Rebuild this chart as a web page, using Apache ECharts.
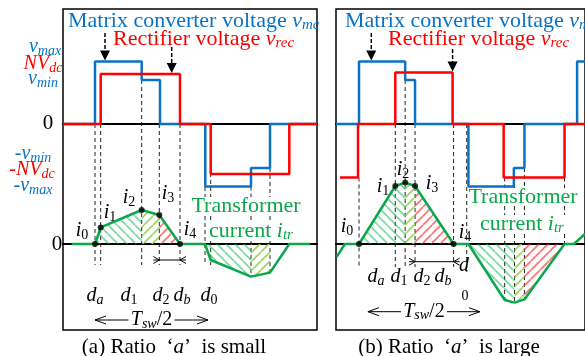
<!DOCTYPE html>
<html><head><meta charset="utf-8">
<script src="https://cdn.jsdelivr.net/npm/echarts/dist/echarts.min.js"></script>
<style>html,body{margin:0;padding:0;background:#fff}#c{width:585px;height:356px}</style>
</head><body><div id="c"></div>
<script>
// ---- levels (voltage, normalised) ----
const V_MAX = 1.25, NV_DC = 1.0, V_MIN = 0.88;

// ---- Panel (a): ratio 'a' is small ----
const tA_vmc = [0, 32, 78.7, 97, 142.3, 188, 207, 254];
const vA_vmc = [0, V_MAX, V_MIN, 0, -V_MAX, -V_MIN, 0, 0];
const tA_rec = [0, 37.7, 117, 147.7, 226.3, 254];
const vA_rec = [0, NV_DC, 0, -NV_DC, 0, 0];
const tA_itr = [8.7, 32, 37.7, 78.7, 96.3, 117, 142, 147.7, 188, 207, 226.3, 247];
const iA_itr = [0, 0, 0.83, 1.7, 1.45, 0, 0, -0.8, -1.63, -1.43, 0, 0];
const dotsA = [1, 2, 3, 4, 5];
const hatchA = [[32, 78.7, 'g'], [78.7, 96.3, 'l'], [96.3, 117, 'r'], [142, 188, 'g'], [188, 207, 'l']];
const guidesA = [[32, 0, -1.05], [37.7, 0, -1.05], [78.7, V_MIN, -1.05], [96.3, 0, -1.05], [117, 0, -1.05],
                 [142, 0, -1.05], [147.7, 0, -1.05], [188, -V_MAX, -1.63], [207, -V_MIN, -1.43]];
const arrowsA = [[42, 1.82, V_MAX], [108.7, 1.54, NV_DC]];
const dimA = [96.3, 117];
const tswA = [32, 145];

// ---- Panel (b): ratio 'a' is large ----
const tB_vmc = [0, 23.3, 70, 80, 134, 180, 190.7, 244, 252];
const vB_vmc = [0, V_MAX, V_MIN, 0, -V_MAX, -V_MIN, 0, V_MAX, V_MAX];
const tB_rec = [4, 22.3, 60, 118, 169.7, 231.3, 252];
const vB_rec = [-1.07, 0, 1.03, 0, -1.07, 0, 0];
const tB_itr = [0.7, 9, 23.3, 60, 70, 80, 119, 134, 170.7, 180.7, 190.7, 231.3, 240.7, 252];
const iB_itr = [-0.64, 0, 0, 2.9, 3.07, 2.9, 0, 0, -2.8, -2.93, -2.77, 0, 0, 0.5];
const dotsB = [2, 3, 4, 5, 6];
const hatchB = [[23.3, 70, 'g'], [70, 80, 'l'], [80, 119, 'r'], [134, 180.7, 'g'], [180.7, 190.7, 'l'], [190.7, 231.3, 'r']];
const guidesB = [[23.3, -1.07, -1.15], [60, 0, -1.15], [70, V_MIN, -1.15], [80, 0, -1.15], [119, 0, -1.15],
                 [132.3, 0, -1.4], [170.7, -1.07, -2.8], [180.7, -V_MAX, -2.93], [190.7, -V_MIN, -2.77], [231.3, -1.07, 0]];
const arrowsB = [[35.7, 1.82, V_MAX], [118, 1.5, 1.03]];
const dimB = [80, 119];
const tswB = [32.3, 145.7];

// ---------------- styling ----------------
const FONT = '"Liberation Serif","Times New Roman",serif';
const BLUE = '#0a72c4', RED = '#ff0000', GREEN = '#0aa84a';

function pattern(color, dir) {
  const s = 9, c = document.createElement('canvas'); c.width = s; c.height = s;
  const g = c.getContext('2d'); g.strokeStyle = color; g.lineWidth = 1.7; g.beginPath();
  for (const o of [-s, 0, s]) {
    if (dir === '\\') { g.moveTo(o, 0); g.lineTo(o + s, s); } else { g.moveTo(o, s); g.lineTo(o + s, 0); }
  }
  g.stroke(); return c;
}
const PAT = { g: pattern('rgba(20,185,90,0.55)', '\\'), l: pattern('rgba(150,210,80,0.9)', '/'), r: pattern('rgba(255,40,40,0.65)', '/') };

const zip = (t, v) => t.map((x, i) => [x, v[i]]);

function panelSeries(p, tv, vv, tr, vr, ti, ii, dots, hatch) {
  const xa = 2 * p, yv = 2 * p, yi = 2 * p + 1;
  const cur = zip(ti, ii);
  const out = [];
  hatch.forEach(([a, b, k]) => {
    out.push({ type: 'line', xAxisIndex: xa, yAxisIndex: yi, symbol: 'none', silent: true, z: 2,
      data: cur.filter(d => d[0] >= a - 1e-6 && d[0] <= b + 1e-6),
      lineStyle: { width: 0, opacity: 0 }, areaStyle: { color: { image: PAT[k], repeat: 'repeat' }, opacity: 1 } });
  });
  out.push({ type: 'line', xAxisIndex: xa, yAxisIndex: yv, step: 'end', symbol: 'none', z: 3,
    data: zip(tv, vv), lineStyle: { color: BLUE, width: 2.5 } });
  out.push({ type: 'line', xAxisIndex: xa, yAxisIndex: yv, step: 'end', symbol: 'none', z: 4,
    data: zip(tr, vr), lineStyle: { color: RED, width: 2.5 } });
  out.push({ type: 'line', xAxisIndex: xa, yAxisIndex: yi, symbol: 'none', z: 5,
    data: cur, lineStyle: { color: GREEN, width: 2.5 } });
  out.push({ type: 'scatter', xAxisIndex: xa, yAxisIndex: yi, symbolSize: 6, z: 6,
    itemStyle: { color: '#000' }, data: dots.map(k => cur[k]) });
  return out;
}

const grids = [{ left: 63, top: 9, width: 254, height: 321 }, { left: 336, top: 9, width: 252, height: 321 }];
const xMax = [254, 252];
const option = {
  animation: false,
  grid: grids.map(g => Object.assign({ show: true, borderColor: '#000', borderWidth: 1.5, backgroundColor: 'transparent' }, g)),
  xAxis: [], yAxis: [], series: []
};
[0, 1].forEach(p => {
  [0, 1].forEach(k => option.xAxis.push({ gridIndex: p, type: 'value', min: 0, max: xMax[p], position: k ? 'top' : 'bottom',
    axisLine: { show: true, onZero: true, onZeroAxisIndex: 2 * p + k, lineStyle: { color: '#000', width: 2 } },
    axisTick: { show: false }, axisLabel: { show: false }, splitLine: { show: false } }));
  option.yAxis.push({ gridIndex: p, type: 'value', min: -4.12, max: 2.3, axisLine: { show: false }, axisTick: { show: false }, axisLabel: { show: false }, splitLine: { show: false } });
  option.yAxis.push({ gridIndex: p, type: 'value', min: -4.3, max: 11.75, position: 'right', axisLine: { show: false }, axisTick: { show: false }, axisLabel: { show: false }, splitLine: { show: false } });
});
option.series = panelSeries(0, tA_vmc, vA_vmc, tA_rec, vA_rec, tA_itr, iA_itr, dotsA, hatchA)
  .concat(panelSeries(1, tB_vmc, vB_vmc, tB_rec, vB_rec, tB_itr, iB_itr, dotsB, hatchB));

const chart = echarts.init(document.getElementById('c'), null, { renderer: 'canvas' });
chart.setOption(option);

// ---------------- annotations ----------------
const P = (p, axis, pt) => chart.convertToPixel({ xAxisIndex: 2 * p, yAxisIndex: 2 * p + axis }, pt);
const G = [];
const DASH = { stroke: '#222', lineWidth: 1, lineDash: [4, 3] };
// areas kept clear of guide lines (the green text labels sit on a white ground)
const clearBoxes = [[186, 306, 197, 216], [208, 296, 222, 241], [468, 580, 188, 206], [478, 567, 215, 234]];

function guides(p, list) {
  list.forEach(([t, top, bot]) => {
    const a = P(p, 0, [t, top]), b = P(p, 1, [t, bot]);
    const x = a[0];
    let segs = [[a[1], b[1]]];
    clearBoxes.forEach(([x0, x1, y0, y1]) => {
      if (x < x0 || x > x1) return;
      const ns = [];
      segs.forEach(([s, e]) => {
        if (e <= y0 || s >= y1) { ns.push([s, e]); return; }
        if (s < y0) ns.push([s, y0]);
        if (e > y1) ns.push([y1, e]);
      });
      segs = ns;
    });
    segs.forEach(([s, e]) => G.push({ type: 'line', shape: { x1: x, y1: s, x2: x, y2: e }, style: DASH }));
  });
}
function vArrows(p, list) {
  list.forEach(([t, top, tip]) => {
    const a = P(p, 0, [t, top]), b = P(p, 0, [t, tip]);
    G.push({ type: 'line', shape: { x1: a[0], y1: a[1], x2: b[0], y2: b[1] - 9 }, style: { stroke: '#000', lineWidth: 1.5, lineDash: [4, 2] } });
    G.push({ type: 'polygon', shape: { points: [[b[0] - 5, b[1] - 11], [b[0] + 5, b[1] - 11], [b[0], b[1] - 1]] }, style: { fill: '#000' } });
  });
}
function dimArrow(p, tips, yPix) {
  const l = P(p, 1, [tips[0], 0])[0], r = P(p, 1, [tips[1], 0])[0];
  G.push({ type: 'line', shape: { x1: l - 6, y1: yPix, x2: r + 6, y2: yPix }, style: { stroke: '#000', lineWidth: 1 } });
  G.push({ type: 'polyline', shape: { points: [[l - 6, yPix - 3.5], [l, yPix], [l - 6, yPix + 3.5]] }, style: { stroke: '#000', lineWidth: 1, fill: null } });
  G.push({ type: 'polyline', shape: { points: [[r + 6, yPix - 3.5], [r, yPix], [r + 6, yPix + 3.5]] }, style: { stroke: '#000', lineWidth: 1, fill: null } });
}
function tswArrow(p, tips, yPix, half) {
  const l = P(p, 1, [tips[0], 0])[0], r = P(p, 1, [tips[1], 0])[0], m = (l + r) / 2;
  const st = { stroke: '#000', lineWidth: 1, fill: null };
  G.push({ type: 'line', shape: { x1: l, y1: yPix, x2: m - half, y2: yPix }, style: st });
  G.push({ type: 'line', shape: { x1: m + half, y1: yPix, x2: r, y2: yPix }, style: st });
  G.push({ type: 'polyline', shape: { points: [[l + 11, yPix - 4], [l, yPix], [l + 11, yPix + 4]] }, style: st });
  G.push({ type: 'polyline', shape: { points: [[r - 11, yPix - 4], [r, yPix], [r - 11, yPix + 4]] }, style: st });
  G.push(txt(m, yPix, '{it|T}{sb|sw}{n|/2}', '#000', 20));
}

function rich(color, size) {
  const sub = Math.round(size * 0.68);
  return {
    n: { fontFamily: FONT, fontSize: size, fill: color, lineHeight: size + 2, verticalAlign: 'middle' },
    it: { fontFamily: FONT, fontSize: size, fontStyle: 'italic', fill: color, lineHeight: size + 2, verticalAlign: 'middle' },
    sb: { fontFamily: FONT, fontSize: sub, fontStyle: 'italic', fill: color, lineHeight: 10, verticalAlign: 'bottom' },
    sn: { fontFamily: FONT, fontSize: sub, fill: color, lineHeight: 10, verticalAlign: 'bottom' }
  };
}
function txt(x, y, s, color, size, align) {
  const st = { text: s, rich: rich(color, size), align: align || 'center', verticalAlign: 'middle', fill: color, fontFamily: FONT, fontSize: size };
  return { type: 'text', x: x, y: y, style: st };
}

guides(0, guidesA); guides(1, guidesB);
vArrows(0, arrowsA); vArrows(1, arrowsB);
dimArrow(0, dimA, 260); dimArrow(1, dimB, 261.7);
tswArrow(0, tswA, 320, 23); tswArrow(1, tswB, 311.7, 23);

// titles
G.push(txt(68, 21, '{n|Matrix converter voltage }{it|v}{sb|mc}', BLUE, 22, 'left'));
G.push(txt(113, 39, '{n|Rectifier voltage }{it|v}{sb|rec}', RED, 22, 'left'));
G.push(txt(345, 21, '{n|Matrix converter voltage }{it|v}{sb|mc}', BLUE, 22, 'left'));
G.push(txt(388, 39, '{n|Rectifier voltage }{it|v}{sb|rec}', RED, 22, 'left'));
// level labels
G.push(txt(45, 47, '{it|v}{sb|max}', BLUE, 20));
G.push(txt(43, 64, '{it|NV}{sb|dc}', RED, 20));
G.push(txt(43, 79, '{it|v}{sb|min}', BLUE, 20));
G.push(txt(48, 123, '{n|0}', '#000', 21));
G.push(txt(33, 154, '{n|-}{it|v}{sb|min}', BLUE, 20));
G.push(txt(32, 170, '{n|-}{it|NV}{sb|dc}', RED, 20));
G.push(txt(33, 186, '{n|-}{it|v}{sb|max}', BLUE, 20));
G.push(txt(57, 244, '{n|0}', '#000', 21));
// current labels (a)
G.push(txt(82, 231, '{it|i}{sn|0}', '#000', 20));
G.push(txt(110, 213, '{it|i}{sn|1}', '#000', 20));
G.push(txt(129, 198, '{it|i}{sn|2}', '#000', 20));
G.push(txt(168, 194, '{it|i}{sn|3}', '#000', 20));
G.push(txt(190, 230, '{it|i}{sn|4}', '#000', 20));
G.push(txt(246, 206, '{n|Transformer}', GREEN, 22));
G.push(txt(251, 231, '{n|current }{it|i}{sb|tr}', GREEN, 22));
// current labels (b)
G.push(txt(347, 227, '{it|i}{sn|0}', '#000', 20));
G.push(txt(383, 187, '{it|i}{sn|1}', '#000', 20));
G.push(txt(403, 170, '{it|i}{sn|2}', '#000', 20));
G.push(txt(432, 184, '{it|i}{sn|3}', '#000', 20));
G.push(txt(465, 233, '{it|i}{sn|4}', '#000', 20));
G.push(txt(523, 197, '{n|Transformer}', GREEN, 22));
G.push(txt(522, 224, '{n|current }{it|i}{sb|tr}', GREEN, 22));
// interval labels (a)
G.push(txt(95, 296, '{it|d}{sb|a}', '#000', 20));
G.push(txt(129, 296, '{it|d}{sn|1}', '#000', 20));
G.push(txt(161, 296, '{it|d}{sn|2}', '#000', 20));
G.push(txt(182, 296, '{it|d}{sb|b}', '#000', 20));
G.push(txt(209, 296, '{it|d}{sn|0}', '#000', 20));
// interval labels (b)
G.push(txt(376, 277, '{it|d}{sb|a}', '#000', 20));
G.push(txt(399, 277, '{it|d}{sn|1}', '#000', 20));
G.push(txt(422, 277, '{it|d}{sn|2}', '#000', 20));
G.push(txt(443, 277, '{it|d}{sb|b}', '#000', 20));
G.push(txt(464, 266, '{it|d}', '#000', 20));
G.push(txt(465, 296, '{n|0}', '#000', 14));
// captions
G.push(txt(174, 347, '{n|(a) Ratio  ‘}{it|a}{n|’  is small}', '#000', 21));
G.push(txt(449, 347, '{n|(b) Ratio  ‘}{it|a}{n|’  is large}', '#000', 21));

chart.setOption({ graphic: { elements: G } });
</script></body></html>
